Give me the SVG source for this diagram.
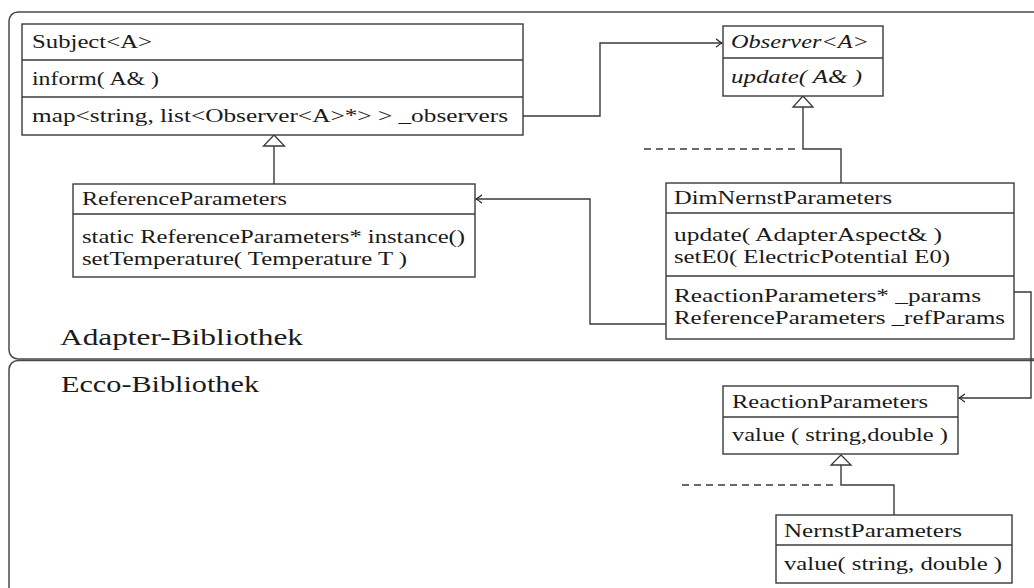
<svg xmlns="http://www.w3.org/2000/svg" width="1034" height="588" viewBox="0 0 1034 588">
  <defs>
    <style>
      .frame { fill: none; stroke: #4a4a4a; stroke-width: 1.5; }
      .box { fill: #fff; stroke: #3a3a3a; stroke-width: 1.4; }
      .sep { stroke: #3a3a3a; stroke-width: 1.4; }
      .t { font-family: "Liberation Serif", "Times New Roman", serif; font-size: 18px; fill: #1a1a1a; }
      .it { font-style: italic; }
      .lbl { font-family: "Liberation Serif", "Times New Roman", serif; font-size: 24px; fill: #1a1a1a; }
      .edge { fill: none; stroke: #3a3a3a; stroke-width: 1.4; }
      .dash { fill: none; stroke: #3a3a3a; stroke-width: 1.4; stroke-dasharray: 7 5; }
      .tri { fill: #fff; stroke: #3a3a3a; stroke-width: 1.3; }
    </style>
    <marker id="to" viewBox="-7 -5 8 10" refX="0" refY="0" markerWidth="8" markerHeight="10" markerUnits="userSpaceOnUse" orient="auto">
      <path d="M-5.5,-3.8 Q-1.8,-0.8 0,0 Q-1.8,0.8 -5.5,3.8" fill="none" stroke="#222" stroke-width="1.2" stroke-linecap="round"/>
    </marker>
  </defs>

  <!-- library frames -->
  <g id="frames">
    <path class="frame" d="M1040,12 H18 A9,9 0 0 0 9,21 V350 A9,9 0 0 0 18,359 H1040"/>
    <path class="frame" d="M1040,360.5 H18 A9,9 0 0 0 9,369.5 V600"/>
    <text class="lbl" x="60" y="345" textLength="243" lengthAdjust="spacingAndGlyphs">Adapter-Bibliothek</text>
    <text class="lbl" x="61" y="392" textLength="198" lengthAdjust="spacingAndGlyphs">Ecco-Bibliothek</text>
  </g>

  <!-- connectors -->
  <g id="connectors">
    <!-- Subject::_observers -> Observer -->
    <polyline class="edge" points="523,116 600,116 600,43 722,43" marker-end="url(#to)"/>
    <!-- DimNernstParameters realises Observer -->
    <polyline class="edge" points="803,107 803,149 841,149 841,183"/>
    <line class="dash" x1="644" y1="149" x2="800" y2="149"/>
    <polygon class="tri" points="803,96 793,107 813,107"/>
    <!-- ReferenceParameters derives from Subject -->
    <line class="edge" x1="274" y1="146" x2="274" y2="184"/>
    <polygon class="tri" points="274,135 263.5,146 284.5,146"/>
    <!-- DimNernstParameters::_refParams -> ReferenceParameters -->
    <polyline class="edge" points="666,324 590,324 590,199 476,199" marker-end="url(#to)"/>
    <!-- DimNernstParameters::_params -> ReactionParameters -->
    <polyline class="edge" points="1014,292 1031,292 1031,398 959,398" marker-end="url(#to)"/>
    <!-- NernstParameters derives from ReactionParameters -->
    <polyline class="edge" points="841,465 841,485 894,485 894,515"/>
    <line class="dash" x1="682" y1="485" x2="838" y2="485"/>
    <polygon class="tri" points="841,455 831,465 851,465"/>
  </g>

  <g id="subject">
    <rect class="box" x="22" y="24" width="501" height="111"/>
    <line class="sep" x1="22" y1="60" x2="523" y2="60"/>
    <line class="sep" x1="22" y1="97" x2="523" y2="97"/>
    <text class="t" x="32" y="48" textLength="120" lengthAdjust="spacingAndGlyphs">Subject&lt;A&gt;</text>
    <text class="t" x="32" y="85" textLength="127" lengthAdjust="spacingAndGlyphs">inform( A&amp; )</text>
    <text class="t" x="32" y="122" textLength="476" lengthAdjust="spacingAndGlyphs">map&lt;string, list&lt;Observer&lt;A&gt;*&gt; &gt; _observers</text>
  </g>

  <g id="observer">
    <rect class="box" x="723" y="26" width="160" height="70"/>
    <line class="sep" x1="723" y1="58" x2="883" y2="58"/>
    <text class="t it" x="731" y="48" textLength="138" lengthAdjust="spacingAndGlyphs">Observer&lt;A&gt;</text>
    <text class="t it" x="731" y="83" textLength="131" lengthAdjust="spacingAndGlyphs">update( A&amp; )</text>
  </g>

  <g id="referenceParameters">
    <rect class="box" x="73" y="184" width="402" height="93"/>
    <line class="sep" x1="73" y1="214" x2="475" y2="214"/>
    <text class="t" x="82" y="205" textLength="205" lengthAdjust="spacingAndGlyphs">ReferenceParameters</text>
    <text class="t" x="82" y="243" textLength="383" lengthAdjust="spacingAndGlyphs">static ReferenceParameters* instance()</text>
    <text class="t" x="82" y="265" textLength="325" lengthAdjust="spacingAndGlyphs">setTemperature( Temperature T )</text>
  </g>

  <g id="dimNernstParameters">
    <rect class="box" x="666" y="183" width="348" height="156"/>
    <line class="sep" x1="666" y1="213" x2="1014" y2="213"/>
    <line class="sep" x1="666" y1="276" x2="1014" y2="276"/>
    <text class="t" x="674" y="204" textLength="218" lengthAdjust="spacingAndGlyphs">DimNernstParameters</text>
    <text class="t" x="674" y="241" textLength="268" lengthAdjust="spacingAndGlyphs">update( AdapterAspect&amp; )</text>
    <text class="t" x="674" y="263" textLength="276" lengthAdjust="spacingAndGlyphs">setE0( ElectricPotential E0)</text>
    <text class="t" x="674" y="302" textLength="307" lengthAdjust="spacingAndGlyphs">ReactionParameters* _params</text>
    <text class="t" x="674" y="324" textLength="331" lengthAdjust="spacingAndGlyphs">ReferenceParameters _refParams</text>
  </g>

  <g id="reactionParameters">
    <rect class="box" x="723" y="386" width="235" height="68"/>
    <line class="sep" x1="723" y1="417" x2="958" y2="417"/>
    <text class="t" x="732" y="408" textLength="196" lengthAdjust="spacingAndGlyphs">ReactionParameters</text>
    <text class="t" x="732" y="441" textLength="216" lengthAdjust="spacingAndGlyphs">value ( string,double )</text>
  </g>

  <g id="nernstParameters">
    <rect class="box" x="776" y="515" width="236" height="68"/>
    <line class="sep" x1="776" y1="545" x2="1012" y2="545"/>
    <text class="t" x="784" y="537" textLength="178" lengthAdjust="spacingAndGlyphs">NernstParameters</text>
    <text class="t" x="784" y="570" textLength="218" lengthAdjust="spacingAndGlyphs">value( string, double )</text>
  </g>
</svg>
